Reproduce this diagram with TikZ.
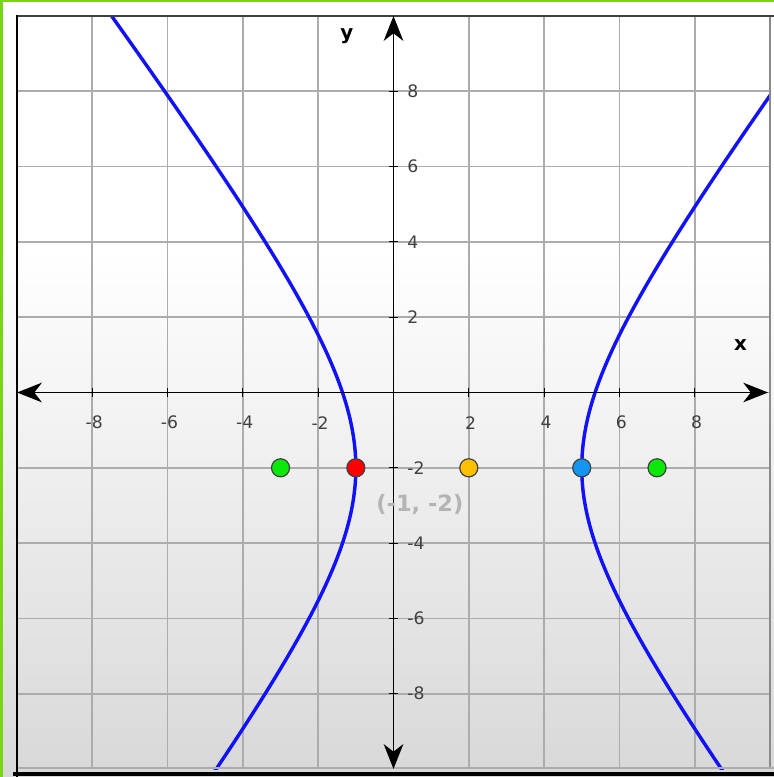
\documentclass[tikz,border=0pt]{standalone}
\usepackage{fontspec}
\setmainfont{DejaVu Sans}
\usetikzlibrary{arrows.meta}
\definecolor{limegreen}{RGB}{122,214,20}
\definecolor{gridgray}{RGB}{172,172,172}
\definecolor{bgbottom}{RGB}{216,216,216}
\definecolor{curveblue}{RGB}{18,18,250}
\definecolor{dotgreen}{RGB}{10,232,10}
\definecolor{dotred}{RGB}{250,0,0}
\definecolor{dotorange}{RGB}{255,192,0}
\definecolor{dotblue}{RGB}{20,150,240}
\definecolor{labelgray}{RGB}{180,180,180}
\tikzset{
  gridline/.style={draw=gridgray, line width=1.3pt},
  axisline/.style={draw=black, line width=1.1pt, {Stealth[length=0.66cm,width=0.52cm,inset=0.2cm]}-{Stealth[length=0.66cm,width=0.52cm,inset=0.2cm]}},
  tickmark/.style={draw=black, line width=0.9pt},
  hyper/.style={draw=curveblue, line width=2.6pt},
  dot/.style={circle, draw=black!75, line width=0.9pt, minimum size=0.48cm, inner sep=0pt},
  ticklabel/.style={font=\fontsize{13}{15}\selectfont, text=black!75, inner sep=0pt},
  axislabel/.style={font=\fontsize{15}{17}\selectfont\bfseries, text=black, inner sep=0pt},
  pointlabel/.style={font=\fontsize{17}{19}\selectfont\bfseries, text=labelgray, inner sep=0pt}
}
\begin{document}
\begin{tikzpicture}[x=1cm,y=1cm]
\useasboundingbox (-10.4515,-10.2125) rectangle (10.1062,10.425);
% background gradient
\fill[white] (-10.4515,3.78) rectangle (10.1062,10.425);
\shade[top color=white, bottom color=bgbottom] (-10.4515,-10.2125) rectangle (10.1062,3.785);
% green border (left and top)
\fill[limegreen] (-10.4515,-10.2125) rectangle (-10.37,10.425);
\fill[limegreen] (-10.4515,10.36) rectangle (10.1062,10.425);
% grid and curve clipped to plot area
\begin{scope}
  \clip (-10,-10) rectangle (10,10);
  \foreach \v in {-8,-6,-4,-2,2,4,6,8} {
    \draw[gridline] (\v,-10) -- (\v,10);
    \draw[gridline] (-10,\v) -- (10,\v);
  }
  \draw[gridline] (0,-10) -- (0,10);
  \draw[gridline] (-10,0) -- (10,0);
  \draw[hyper] plot[domain=-1.46:1.83, samples=120, variable=\t] ({2-3*cosh(\t)},{-2+4*sinh(\t)});
  \draw[hyper] plot[domain=-1.46:1.66, samples=120, variable=\t] ({2+3*cosh(\t)},{-2+4*sinh(\t)});
\end{scope}
% frame
\draw[gridgray!80!black, line width=1pt] (10,-10) -- (10,10);
\draw[black!75, line width=1.5pt] (-10,10) -- (10.1062,10);
\draw[gridgray, line width=1.2pt] (-10,-9.97) -- (10.1062,-9.97);
\draw[black, line width=3.2pt] (-10.1,-10.13) -- (10.1062,-10.13);
\draw[black, line width=1.6pt] (-10,-10.2) -- (-10,10.02);
% axes
\coordinate (xl) at (-10,0);
\coordinate (xr) at (9.95,0);
\coordinate (yb) at (0,-10);
\coordinate (yt) at (0,10);
\draw[axisline] (xl) -- (xr);
\draw[axisline] (yb) -- (yt);
% ticks and tick labels
\foreach \v in {-8,-6,-4,-2,2,4,6,8} {
  \draw[tickmark] (\v,-0.12) -- (\v,0.12);
  \draw[tickmark] (-0.13,\v) -- (0.13,\v);
  \node[ticklabel] (tx\v) at (\v+0.05,-0.8) {\v};
  \node[ticklabel, anchor=west] (ty\v) at (0.36,\v) {\v};
}
% axis labels
\node[axislabel] (xlab) at (9.22,1.26) {x};
\node[axislabel] (ylab) at (-1.24,9.47) {y};
% points
\node[dot, fill=dotgreen] (f1) at (-3,-2) {};
\node[dot, fill=dotred] (v1) at (-1,-2) {};
\node[dot, fill=dotorange] (c) at (2,-2) {};
\node[dot, fill=dotblue] (v2) at (5,-2) {};
\node[dot, fill=dotgreen] (f2) at (7,-2) {};
\node[pointlabel] (vlab) at (0.7,-2.97) {(-1, -2)};
\end{tikzpicture}
\end{document}
